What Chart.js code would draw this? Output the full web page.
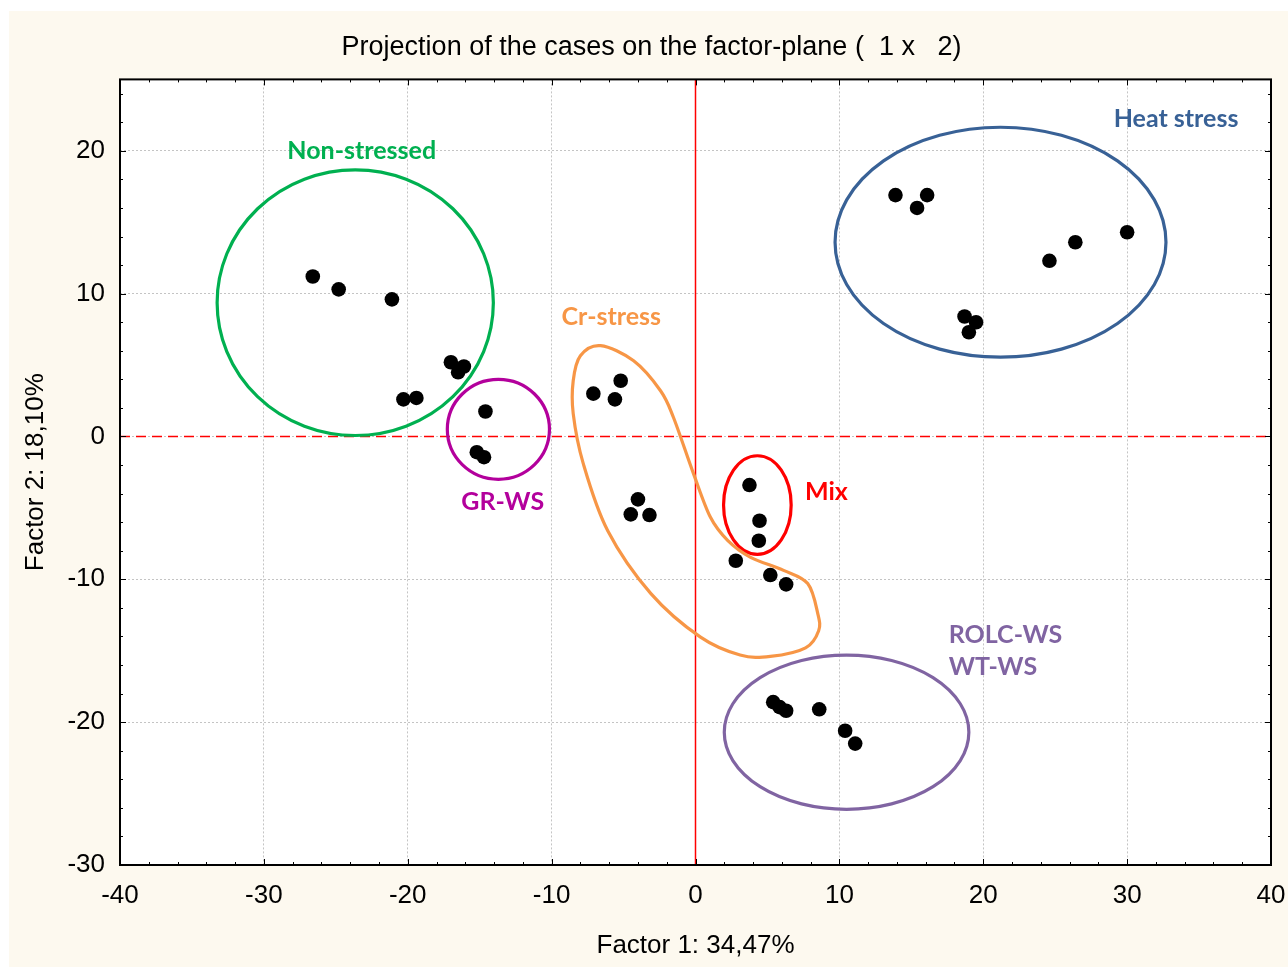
<!DOCTYPE html>
<html>
<head>
<meta charset="utf-8">
<script src="https://cdn.jsdelivr.net/npm/chart.js@4.4.1/dist/chart.umd.min.js"></script>
<style>
  html, body { margin: 0; padding: 0; background: #fff; }
  canvas { display: block; }
</style>
</head>
<body>
<canvas id="chart" width="1288" height="967"></canvas>
<script>
// case scores on factor 1 / factor 2, grouped by the cluster they are circled in
const nonStressedX = [-26.6, -24.8, -21.1, -17.0, -16.1, -16.5, -20.3, -19.4];
const nonStressedY = [11.2, 10.3, 9.6, 5.2, 4.9, 4.5, 2.6, 2.7];
const grwsX = [-14.6, -15.2, -14.7];
const grwsY = [1.75, -1.1, -1.45];
const crStressX = [-7.1, -5.2, -5.6, -4.0, -4.5, -3.2, 2.8, 5.2, 6.3];
const crStressY = [3.0, 3.9, 2.6, -4.4, -5.45, -5.5, -8.7, -9.7, -10.35];
const mixX = [3.75, 4.45, 4.4];
const mixY = [-3.4, -5.9, -7.3];
const heatX = [13.9, 16.1, 15.4, 30.0, 26.4, 24.6, 18.7, 19.5, 19.0];
const heatY = [16.9, 16.9, 16.0, 14.3, 13.6, 12.3, 8.4, 8.0, 7.3];
const wsX = [5.4, 5.85, 6.3, 8.6, 10.4, 11.1];
const wsY = [-18.6, -18.95, -19.2, -19.1, -20.6, -21.5];

const xTicks = [-40, -30, -20, -10, 0, 10, 20, 30, 40];
const yTicks = [-30, -20, -10, 0, 10, 20];

// hand-drawn cluster marks, in factor units
const ellipseNames = ['Non-stressed', 'GR-WS', 'Mix', 'Heat stress', 'ROLC-WS'];
const ellipseCx = [-23.65, -13.7, 4.3, 21.2, 10.5];
const ellipseCy = [9.37, 0.5, -4.8, 13.6, -20.7];
const ellipseRx = [9.6, 3.55, 2.35, 11.5, 8.5];
const ellipseRy = [9.3, 3.5, 3.45, 8.05, 5.4];
const ellipseColors = ['#00b050', '#b3009c', '#ff0000', '#386196', '#8064a2'];

const crOutlineX = [-6.6, -4.3, -2.43, -1.53, -0.14, 1.04, 2.23, 3.83, 6.12, 7.8, 8.5, 8.56, 7.65, 5.2, 3.1, 0.35, -3.1, -6.1, -7.8, -8.5, -8.5, -8.0];
const crOutlineY = [6.36, 5.3, 3.2, 1.33, -2.6, -5.66, -7.27, -8.46, -9.37, -10.3, -12.4, -13.6, -14.8, -15.4, -15.3, -14.05, -11.0, -6.6, -1.9, 1.6, 3.9, 5.66];

const labelTexts = ['Non-stressed', 'GR-WS', 'Cr-stress', 'Mix', 'Heat stress', 'ROLC-WS', 'WT-WS'];
const labelX = [-23.2, -13.4, -5.85, 9.1, 33.4, 17.6, 17.6];
const labelY = [20.0, -4.6, 8.4, -3.85, 22.2, -13.9, -16.15];
const labelColors = ['#00b050', '#b3009c', '#f79646', '#ff0000', '#386196', '#8064a2', '#8064a2'];
const labelAlign = ['center', 'center', 'center', 'center', 'center', 'left', 'left'];

const FONT = '"Liberation Sans", Arial, sans-serif';

function toPoints(xs, ys) {
  return xs.map((x, i) => ({ x, y: ys[i] }));
}

const allPoints = [].concat(
  toPoints(nonStressedX, nonStressedY),
  toPoints(grwsX, grwsY),
  toPoints(crStressX, crStressY),
  toPoints(mixX, mixY),
  toPoints(heatX, heatY),
  toPoints(wsX, wsY)
);

function closedCurve(ctx, pts) {
  const n = pts.length;
  ctx.beginPath();
  ctx.moveTo(pts[0].x, pts[0].y);
  for (let i = 0; i < n; i++) {
    const p0 = pts[(i - 1 + n) % n], p1 = pts[i], p2 = pts[(i + 1) % n], p3 = pts[(i + 2) % n];
    ctx.bezierCurveTo(p1.x + (p2.x - p0.x) / 6, p1.y + (p2.y - p0.y) / 6,
                      p2.x - (p3.x - p1.x) / 6, p2.y - (p3.y - p1.y) / 6, p2.x, p2.y);
  }
  ctx.closePath();
  ctx.stroke();
}

const decor = {
  id: 'decor',
  beforeDraw(chart) {
    const { ctx, chartArea: a } = chart;
    ctx.save();
    ctx.fillStyle = '#fdf9ef';
    ctx.fillRect(9, 11, chart.width - 9, chart.height - 11);
    ctx.fillStyle = '#ffffff';
    ctx.fillRect(a.left, a.top, a.right - a.left, a.bottom - a.top);
    ctx.restore();
  },
  beforeDatasetsDraw(chart) {
    const { ctx, chartArea: a, scales: { x, y } } = chart;
    ctx.save();
    // zero lines
    ctx.strokeStyle = '#ff0000';
    ctx.lineWidth = 1.5;
    const x0 = x.getPixelForValue(0), y0 = y.getPixelForValue(0);
    ctx.beginPath();
    ctx.moveTo(x0, a.top);
    ctx.lineTo(x0, a.bottom);
    ctx.stroke();
    ctx.setLineDash([10, 6]);
    ctx.beginPath();
    ctx.moveTo(a.left, y0);
    ctx.lineTo(a.right, y0);
    ctx.stroke();
    ctx.setLineDash([]);

    // cluster ellipses
    ctx.lineWidth = 3.2;
    ellipseCx.forEach((cx, i) => {
      const px = x.getPixelForValue(cx), py = y.getPixelForValue(ellipseCy[i]);
      const rx = Math.abs(x.getPixelForValue(cx + ellipseRx[i]) - px);
      const ry = Math.abs(y.getPixelForValue(ellipseCy[i] + ellipseRy[i]) - py);
      ctx.strokeStyle = ellipseColors[i];
      ctx.beginPath();
      ctx.ellipse(px, py, rx, ry, 0, 0, Math.PI * 2);
      ctx.stroke();
    });

    // Cr-stress outline
    ctx.strokeStyle = '#f79646';
    closedCurve(ctx, crOutlineX.map((v, i) => ({ x: x.getPixelForValue(v), y: y.getPixelForValue(crOutlineY[i]) })));

    // cluster labels
    ctx.font = 'bold 25px Lato, "Open Sans", sans-serif';
    ctx.textBaseline = 'middle';
    labelTexts.forEach((t, i) => {
      ctx.fillStyle = labelColors[i];
      ctx.textAlign = labelAlign[i];
      ctx.fillText(t, x.getPixelForValue(labelX[i]), y.getPixelForValue(labelY[i]));
    });
    ctx.restore();
  },
  afterDraw(chart) {
    const { ctx, chartArea: a, scales: { x, y } } = chart;
    ctx.save();
    ctx.strokeStyle = '#000';
    ctx.lineWidth = 1;
    ctx.beginPath();
    for (let v = x.min; v <= x.max; v += 2) {
      const px = Math.round(x.getPixelForValue(v)) + 0.5;
      const len = v % 10 === 0 ? 6 : 3;
      ctx.moveTo(px, a.bottom); ctx.lineTo(px, a.bottom - len);
      ctx.moveTo(px, a.top); ctx.lineTo(px, a.top + len);
    }
    for (let v = y.min; v <= y.max; v += 2) {
      const py = Math.round(y.getPixelForValue(v)) + 0.5;
      const len = v % 10 === 0 ? 6 : 3;
      ctx.moveTo(a.left, py); ctx.lineTo(a.left + len, py);
      ctx.moveTo(a.right, py); ctx.lineTo(a.right - len, py);
    }
    ctx.stroke();
    ctx.lineWidth = 2;
    ctx.strokeRect(a.left, a.top, a.right - a.left, a.bottom - a.top);
    ctx.restore();
  }
};

const gridColor = edge => c => (c.tick && edge.includes(c.tick.value)) ? 'rgba(0,0,0,0)' : '#c4c4c4';

new Chart(document.getElementById('chart'), {
  type: 'scatter',
  data: {
    datasets: [{
      data: allPoints,
      backgroundColor: '#000',
      borderWidth: 0,
      pointRadius: 7.3,
      pointHoverRadius: 7.3
    }]
  },
  options: {
    responsive: false,
    animation: false,
    events: [],
    layout: { padding: { left: 20, top: 0, right: 5, bottom: 0 } },
    plugins: {
      legend: { display: false },
      tooltip: { enabled: false },
      title: {
        display: true,
        text: 'Projection of the cases on the factor-plane (  1 x   2)',
        color: '#000',
        font: { family: FONT, size: 27, weight: 'normal' },
        padding: { top: 31, bottom: 16 }
      }
    },
    scales: {
      x: {
        type: 'linear',
        min: -40,
        max: 40,
        afterBuildTicks: s => { s.ticks = xTicks.map(v => ({ value: v })); },
        afterFit: s => { s.height = 102; s.paddingRight = 17; },
        grid: { color: gridColor([-40, 40]), lineWidth: 1, drawTicks: false },
        border: { display: false, dash: [2, 2] },
        ticks: { color: '#000', font: { family: FONT, size: 26 }, padding: 15, maxRotation: 0, autoSkip: false },
        title: { display: true, text: 'Factor 1: 34,47%', color: '#000', font: { family: FONT, size: 26 }, padding: { top: 0, bottom: 6 } }
      },
      y: {
        type: 'linear',
        min: -30,
        max: 25,
        afterBuildTicks: s => { s.ticks = yTicks.map(v => ({ value: v })); },
        afterFit: s => { s.width = 100; },
        grid: { color: gridColor([-30]), lineWidth: 1, drawTicks: false },
        border: { display: false, dash: [2, 2] },
        ticks: { color: '#000', font: { family: FONT, size: 26 }, padding: 15, autoSkip: false },
        title: { display: true, text: 'Factor 2: 18,10%', color: '#000', font: { family: FONT, size: 26 }, padding: { top: 0, bottom: 0 } }
      }
    }
  },
  plugins: [decor]
});
</script>
</body>
</html>
